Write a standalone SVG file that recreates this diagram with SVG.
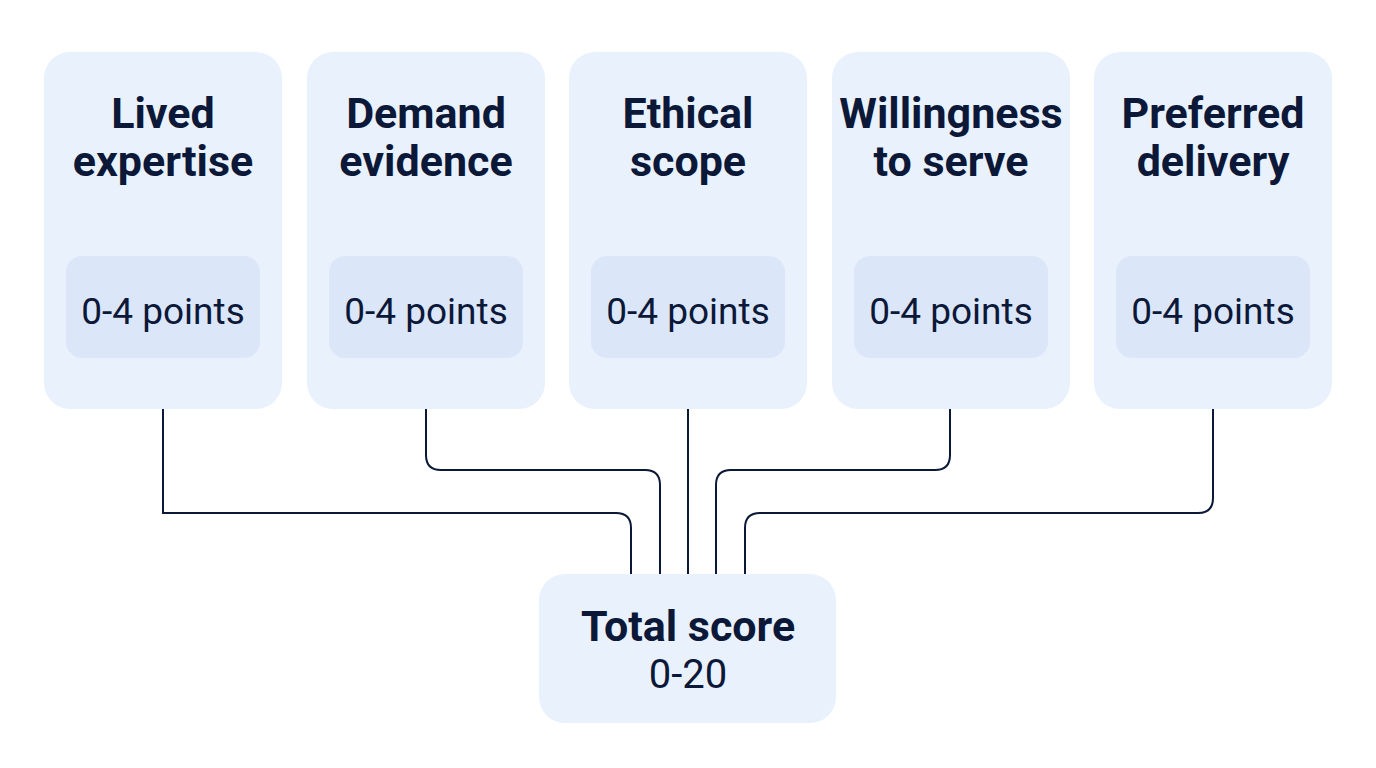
<svg xmlns="http://www.w3.org/2000/svg" width="1376" height="768" viewBox="0 0 1376 768">
<style>
.card{fill:#e9f1fd}
.inner{fill:#dbe6f8}
.t{font-family:Roboto,"Liberation Sans",sans-serif;font-weight:700;font-size:43px;fill:#0c1838;text-anchor:middle}
.p{font-family:Roboto,"Liberation Sans",sans-serif;font-size:37px;fill:#0c1838;text-anchor:middle}
.c{fill:none;stroke:#0c1838;stroke-width:2}
</style>
<rect width="1376" height="768" fill="#fff"/>
<g id="connectors">
<path class="c" d="M163 409 V513 H616 Q631 513 631 528 V574"/>
<path class="c" d="M426 409 V455 Q426 470 441 470 H645 Q660 470 660 485 V574"/>
<path class="c" d="M688 409 V574"/>
<path class="c" d="M950 409 V455 Q950 470 935 470 H731 Q716 470 716 485 V574"/>
<path class="c" d="M1213 409 V498 Q1213 513 1198 513 H760 Q745 513 745 528 V574"/>
</g>
<g id="n1"><rect class="card" x="44" y="52" width="238" height="357" rx="26"/><text class="t" x="163" y="128">Lived</text><text class="t" x="163" y="176">expertise</text><rect class="inner" x="66" y="256" width="194" height="102" rx="16"/><text class="p" x="163" y="324">0-4 points</text></g>
<g id="n2"><rect class="card" x="307" y="52" width="238" height="357" rx="26"/><text class="t" x="426" y="128">Demand</text><text class="t" x="426" y="176">evidence</text><rect class="inner" x="329" y="256" width="194" height="102" rx="16"/><text class="p" x="426" y="324">0-4 points</text></g>
<g id="n3"><rect class="card" x="569" y="52" width="238" height="357" rx="26"/><text class="t" x="688" y="128">Ethical</text><text class="t" x="688" y="176">scope</text><rect class="inner" x="591" y="256" width="194" height="102" rx="16"/><text class="p" x="688" y="324">0-4 points</text></g>
<g id="n4"><rect class="card" x="832" y="52" width="238" height="357" rx="26"/><text class="t" x="951" y="128">Willingness</text><text class="t" x="951" y="176">to serve</text><rect class="inner" x="854" y="256" width="194" height="102" rx="16"/><text class="p" x="951" y="324">0-4 points</text></g>
<g id="n5"><rect class="card" x="1094" y="52" width="238" height="357" rx="26"/><text class="t" x="1213" y="128">Preferred</text><text class="t" x="1213" y="176">delivery</text><rect class="inner" x="1116" y="256" width="194" height="102" rx="16"/><text class="p" x="1213" y="324">0-4 points</text></g>
<g id="total"><rect class="card" x="539" y="574" width="297" height="149" rx="26"/><text class="t" x="688" y="641">Total score</text><text class="p" x="688" y="688" style="font-size:40px">0-20</text></g>
</svg>
